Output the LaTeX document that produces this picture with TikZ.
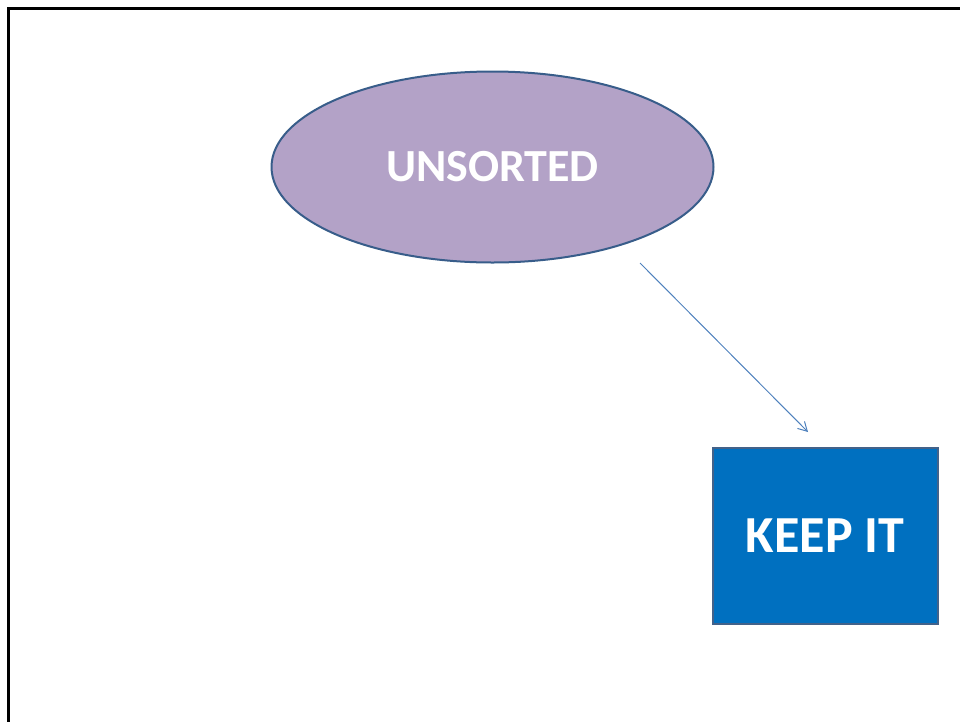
\documentclass[tikz,border=0pt]{standalone}
\usepackage{fontspec}
\setmainfont{Carlito}
\usetikzlibrary{shapes.geometric,arrows.meta}
\definecolor{lilac}{HTML}{B3A2C7}
\definecolor{ellborder}{HTML}{385D8A}
\definecolor{keepblue}{HTML}{0070C0}
\definecolor{rectborder}{HTML}{42628A}
\definecolor{arrowblue}{HTML}{4F81BD}
\tikzset{
  ovalnode/.style={ellipse, draw=ellborder, line width=2pt, fill=lilac, minimum width=442pt, minimum height=191pt, inner sep=0pt, text=white, font=\fontsize{46}{46}\selectfont\bfseries},
  boxnode/.style={rectangle, draw=rectborder, line width=2pt, fill=keepblue, minimum width=225pt, minimum height=176pt, inner sep=0pt, text=white, font=\fontsize{52}{52}\selectfont\bfseries},
  thinarrow/.style={draw=arrowblue, line width=1pt, -{Straight Barb[length=9pt,width=10pt]}}
}
\begin{document}
\begin{tikzpicture}[x=1pt,y=-1pt]
\useasboundingbox (0,0) rectangle (960,721);
\begin{scope}
\clip (0,0) rectangle (960,721);
\draw[line width=3pt] (8.5,8.5) rectangle (1000,800);
\end{scope}
\node[ovalnode] (unsorted) at (492.5,167) {UNSORTED};
\node[boxnode] (keep) at (825,535.5) {KEEP IT};
\coordinate (astart) at (640,263);
\coordinate (aend) at (808,432);
\draw[thinarrow] (astart) -- (aend);
\end{tikzpicture}
\end{document}
